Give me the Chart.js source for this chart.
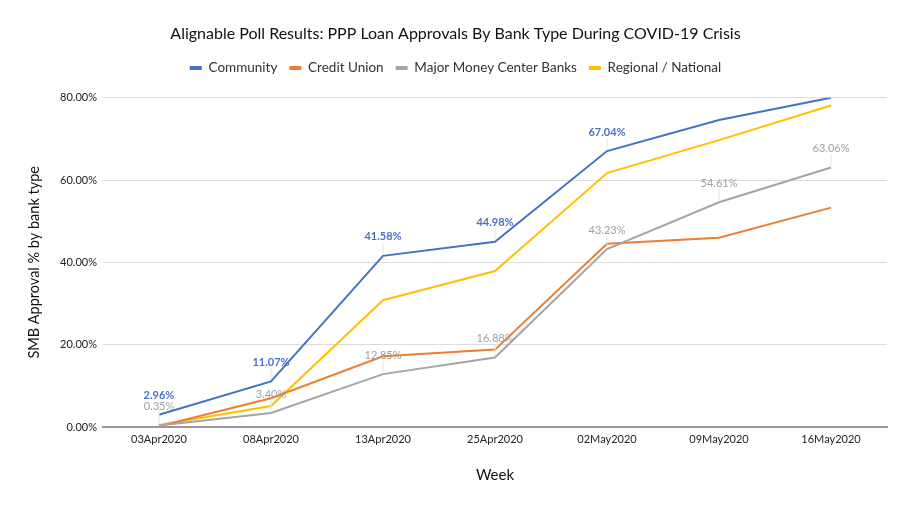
<!DOCTYPE html>
<html>
<head>
<meta charset="utf-8">
<script src="https://cdn.jsdelivr.net/npm/chart.js@4.4.1/dist/chart.umd.min.js"></script>
<style>
  body { margin: 0; background: #fff; }
  canvas { display: block; }
</style>
</head>
<body>
<canvas id="pppChart" width="911" height="509"></canvas>
<script>
// week labels on the x axis
const weeks = ["03Apr2020", "08Apr2020", "13Apr2020", "25Apr2020", "02May2020", "09May2020", "16May2020"];

// approval % per bank type
const community = [2.96, 11.07, 41.58, 44.98, 67.04, 74.6, 80.0];
const creditUnion = [0.2, 7.0, 17.2, 18.8, 44.5, 46.0, 53.3];
const majorBanks = [0.35, 3.40, 12.85, 16.88, 43.23, 54.61, 63.06];
const regional = [0.5, 5.1, 30.8, 37.9, 61.7, 69.7, 78.1];

// which points get a value label
const communityLabels = [true, true, true, true, true, false, false];
const majorBankLabels = [true, true, true, true, true, true, true];

const yTicks = [0, 20, 40, 60, 80];

// draws the small value labels with a thin leader line
const pointLabels = {
    id: "pointLabels",
    afterDatasetsDraw(chart) {
        const ctx = chart.ctx;
        chart.data.datasets.forEach((ds, i) => {
            if (!ds.showLabels) return;
            const meta = chart.getDatasetMeta(i);
            meta.data.forEach((pt, j) => {
                if (!ds.showLabels[j]) return;
                const ty = pt.y - 19;
                ctx.save();
                ctx.strokeStyle = "#e3e3e3";
                ctx.lineWidth = 1;
                ctx.beginPath();
                ctx.moveTo(pt.x, pt.y - 2);
                ctx.lineTo(pt.x, ty + 6);
                ctx.stroke();
                ctx.font = ds.labelFont;
                ctx.fillStyle = ds.labelColor;
                ctx.textAlign = "center";
                ctx.textBaseline = "middle";
                ctx.fillText(ds.data[j].toFixed(2) + "%", pt.x, ty);
                ctx.restore();
            });
        });
    }
};

// give the legend some extra room underneath
const legendGap = {
    id: "legendGap",
    beforeLayout(chart) {
        const lg = chart.legend;
        if (!lg || lg._gapPatched) return;
        const fit = lg.fit;
        lg.fit = function () {
            fit.call(this);
            this.height += 13;
        };
        lg._gapPatched = true;
    }
};

function series(label, data, color) {
    return {
        label: label,
        data: data,
        borderColor: color,
        backgroundColor: color,
        borderWidth: 2,
        pointRadius: 0,
        tension: 0,
        fill: false
    };
}

const datasets = [
    series("Community", community, "#4472c4"),
    series("Credit Union", creditUnion, "#ed7d31"),
    series("Major Money Center Banks", majorBanks, "#a5a5a5"),
    series("Regional / National", regional, "#ffc000")
];
datasets[0].showLabels = communityLabels;
datasets[0].labelColor = "#4a6fcf";
datasets[0].labelFont = "bold 11px Lato";
datasets[2].showLabels = majorBankLabels;
datasets[2].labelColor = "#a0a0a0";
datasets[2].labelFont = "11px Lato";
// keep the labelled gray line drawn over the orange one
datasets[2].order = 0;
datasets[1].order = 1;
datasets[0].order = 2;
datasets[3].order = 3;

const ctx = document.getElementById("pppChart").getContext("2d");
new Chart(ctx, {
    type: "line",
    data: { labels: weeks, datasets: datasets },
    plugins: [pointLabels, legendGap],
    options: {
        responsive: false,
        animation: false,
        layout: { padding: { top: 0, right: 24, bottom: 0, left: 24 } },
        plugins: {
            title: {
                display: true,
                text: "Alignable Poll Results: PPP Loan Approvals By Bank Type During COVID-19 Crisis",
                color: "#111",
                font: { family: "Lato", size: 16, weight: "normal" },
                padding: { top: 24, bottom: 6 }
            },
            legend: {
                position: "top",
                labels: {
                    color: "#333",
                    font: { family: "Lato", size: 13.5 },
                    boxWidth: 12,
                    boxHeight: 4,
                    padding: 12,
                    generateLabels(chart) {
                        return chart.data.datasets.map((ds, i) => ({
                            text: ds.label,
                            fillStyle: ds.borderColor,
                            strokeStyle: ds.borderColor,
                            lineWidth: 0,
                            fontColor: "#333",
                            datasetIndex: i,
                            hidden: false
                        }));
                    }
                }
            },
            tooltip: { enabled: false }
        },
        scales: {
            x: {
                offset: true,
                grid: { display: false, drawTicks: false },
                border: { display: true, color: "#999", width: 2 },
                ticks: { color: "#222", font: { family: "Lato", size: 11 }, padding: 6, maxRotation: 0 },
                title: {
                    display: true,
                    text: "Week",
                    color: "#111",
                    font: { family: "Lato", size: 15 },
                    padding: { top: 4, bottom: 25 }
                },
                afterFit: (s) => { s.height = 82; }
            },
            y: {
                min: 0,
                max: 80,
                afterBuildTicks: (s) => { s.ticks = yTicks.map(v => ({ value: v })); },
                grid: { color: "#dcdcdc", drawTicks: false },
                border: { display: false },
                ticks: {
                    color: "#222",
                    font: { family: "Lato", size: 11 },
                    padding: 6,
                    callback: (v) => v.toFixed(2) + "%"
                },
                title: {
                    display: true,
                    text: "SMB Approval % by bank type",
                    color: "#111",
                    font: { family: "Lato", size: 14.5 },
                    padding: { top: 2, bottom: 2 }
                },
                afterFit: (s) => { s.width = 79; }
            }
        }
    }
});
</script>
</body>
</html>
